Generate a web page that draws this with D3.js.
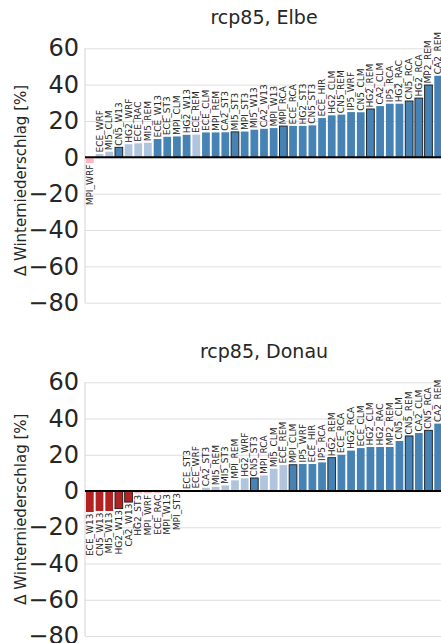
<!DOCTYPE html>
<html>
<head>
<meta charset="utf-8">
<script src="https://cdn.jsdelivr.net/npm/d3@7"></script>
<style>
html,body{margin:0;padding:0;background:#fff;}
svg{display:block;font-family:"DejaVu Sans",sans-serif;}
</style>
</head>
<body>
<svg id="chart" width="441" height="643"></svg>
<script>
// ---------- data ----------
const titles = ["rcp85, Elbe", "rcp85, Donau"];
const yLabel = "\u0394 Winterniederschlag [%]";
const yTicks = [60, 40, 20, 0, -20, -40, -60, -80];

const elbeModels = ["MPI_WRF","ECE_WRF","MI5_CLM","CN5_W13","HG2_WRF","ECE_RAC","MI5_REM","ECE_W13","ECE_ST3","MPI_CLM","HG2_W13","ECE_REM","ECE_CLM","MPI_REM","CA2_ST3","MI5_ST3","MPI_ST3","MI5_W13","CA2_W13","MPI_W13","MPI_RCA","ECE_RCA","HG2_ST3","CN5_ST3","ECE_HIR","HG2_CLM","CN5_REM","IP5_WRF","CN5_CLM","HG2_REM","CA2_CLM","IP5_RCA","HG2_RAC","CN5_RCA","HG2_RCA","MP2_REM","CA2_REM"];
const elbeValues = [-3.2,1.8,3.1,5.5,7.2,7.7,8.0,10.1,11.3,11.5,12.4,12.5,13.7,13.7,13.8,14.0,14.2,15.2,15.7,16.1,17.2,17.3,17.3,17.6,21.6,23.1,23.5,24.9,24.8,26.6,28.2,29.5,29.5,31.0,32.6,39.8,44.9];
// 1 = robust (dark), 0 = not robust (light)
const elbeRobust = [0,0,0,1,0,0,0,1,1,1,1,0,1,1,1,1,1,1,1,1,1,1,1,1,1,1,1,1,1,1,1,1,1,1,1,1,1];
const elbeOutlined = [0,0,0,1,0,0,0,0,0,0,0,0,0,0,0,1,0,0,0,0,1,0,0,0,0,0,0,0,0,1,0,0,0,1,1,1,0];

const donauModels = ["ECE_W13","CN5_W13","MI5_W13","HG2_W13","CA2_W13","HG2_ST3","MPI_WRF","ECE_RAC","MPI_W13","MPI_ST3","ECE_ST3","ECE_WRF","CA2_ST3","MI5_REM","MI5_ST3","MPI_REM","HG2_WRF","CN5_ST3","MPI_RCA","MI5_CLM","ECE_REM","MPI_CLM","IP5_WRF","ECE_HIR","IP5_RCA","HG2_REM","ECE_RCA","HG2_RCA","ECE_CLM","HG2_CLM","HG2_RAC","MP2_REM","CN5_CLM","CN5_REM","CA2_CLM","CN5_RCA","CA2_REM"];
const donauValues = [-11.6,-11.0,-11.0,-9.7,-6.1,-1.3,-1.2,-1.0,-0.8,-0.2,0.2,0.5,1.8,2.3,3.1,5.9,7.0,7.2,8.6,12.3,14.3,14.5,14.9,14.9,15.8,18.4,20.0,22.3,23.7,24.3,24.3,24.3,27.6,30.4,32.0,33.5,37.2];
const donauRobust = [1,1,1,1,1,0,0,0,0,0,0,0,0,0,0,0,0,1,0,0,0,1,1,1,1,1,1,1,1,1,1,1,1,1,1,1,1];
const donauOutlined = [0,0,0,1,1,0,0,0,0,0,0,0,0,0,0,0,0,1,0,0,0,1,0,0,0,1,0,0,0,0,0,0,0,1,0,1,0];

const panelsData = [
  {title: titles[0], models: elbeModels, values: elbeValues, robust: elbeRobust, outlined: elbeOutlined},
  {title: titles[1], models: donauModels, values: donauValues, robust: donauRobust, outlined: donauOutlined}
];

// ---------- layout ----------
const svg = d3.select("#chart");
const xLeft = 85, xRight = 443;
const panelTops = [48.3, 382.3];
const panelBottoms = [302.7, 636];
const ink = "#262626";

function colorFor(v, r) {
  if (v >= 0) return r ? "#4682b4" : "#b0c4de";
  return r ? "#b22222" : "#ffb6c1";
}

panelsData.forEach((p, pi) => {
  const g = svg.append("g");
  const y = d3.scaleLinear().domain([-80, 60]).range([panelBottoms[pi], panelTops[pi]]);
  const x = d3.scaleBand().domain(p.models).range([xLeft, xRight]).paddingInner(0.2).paddingOuter(0.1);

  // grid + tick labels via axis
  const axis = d3.axisLeft(y).tickValues(yTicks).tickSize(-(xRight - xLeft)).tickPadding(6);
  const ag = g.append("g").attr("transform", `translate(${xLeft},0)`).call(axis);
  ag.select(".domain").remove();
  ag.selectAll(".tick line").attr("stroke", "#dedede").attr("stroke-width", 1);
  ag.selectAll(".tick text")
    .attr("fill", ink)
    .attr("font-size", 24)
    .attr("font-family", "DejaVu Sans, sans-serif")
    .attr("x", -6);

  // left spine
  g.append("line")
    .attr("x1", xLeft).attr("x2", xLeft)
    .attr("y1", y(60)).attr("y2", y(-80))
    .attr("stroke", "#d4d4d4").attr("stroke-width", 1);

  // bars
  p.models.forEach((m, i) => {
    const v = p.values[i];
    const y0 = y(Math.max(0, v)), y1 = y(Math.min(0, v));
    g.append("rect")
      .attr("x", x(m)).attr("width", x.bandwidth())
      .attr("y", y0).attr("height", Math.max(0.5, y1 - y0))
      .attr("fill", colorFor(v, p.robust[i]))
      .attr("stroke", p.outlined[i] ? "#1a1a1a" : "none")
      .attr("stroke-width", p.outlined[i] ? 0.9 : 0);
  });

  // zero line
  g.append("line")
    .attr("x1", xLeft).attr("x2", xRight)
    .attr("y1", y(0)).attr("y2", y(0))
    .attr("stroke", "#000").attr("stroke-width", 2);

  // bar labels
  p.models.forEach((m, i) => {
    const v = p.values[i];
    const cx = x(m) + x.bandwidth() / 2;
    const pos = v >= 0;
    const yy = pos ? y(v) - 1.5 : y(v) + 1.5;
    g.append("text")
      .attr("transform", `translate(${cx},${yy}) rotate(-90)`)
      .attr("text-anchor", pos ? "start" : "end")
      .attr("dominant-baseline", "central")
      .attr("font-size", 9)
      .attr("fill", ink)
      .text(m);
  });

  // title
  g.append("text")
    .attr("x", (xLeft + xRight) / 2).attr("y", panelTops[pi] - 24.5)
    .attr("text-anchor", "middle")
    .attr("font-size", 19)
    .attr("fill", ink)
    .text(p.title);

  // y label
  g.append("text")
    .attr("transform", `translate(26,${(panelTops[pi] + panelBottoms[pi]) / 2 + (pi === 0 ? 5 : 0)}) rotate(-90)`)
    .attr("text-anchor", "middle")
    .attr("font-size", 15)
    .attr("fill", ink)
    .text(yLabel);
});
</script>
</body>
</html>
